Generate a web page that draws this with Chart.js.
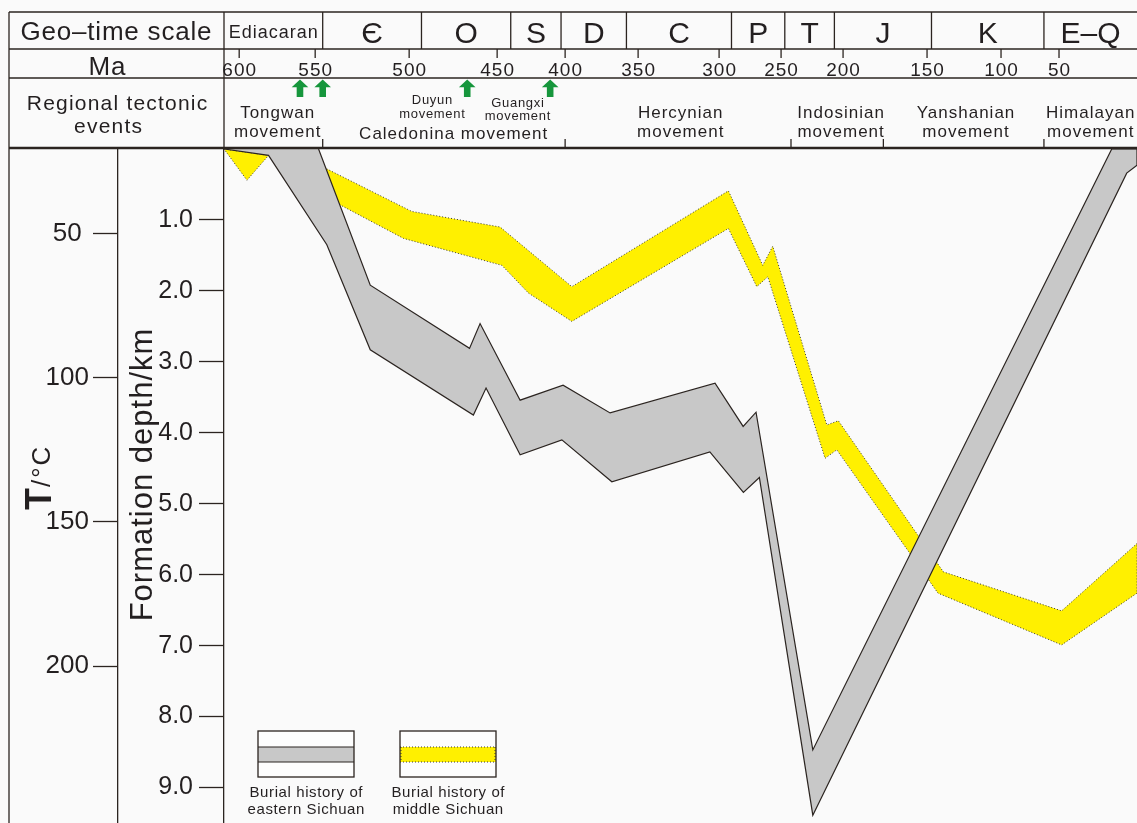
<!DOCTYPE html>
<html lang="en">
<head>
<meta charset="utf-8">
<title>Burial history of eastern and middle Sichuan</title>
<script src="https://cdn.jsdelivr.net/npm/chart.js@4.4.1/dist/chart.umd.min.js"></script>
<style>
  html, body { margin: 0; padding: 0; background: #fafafa; }
  canvas { display: block; }
</style>
</head>
<body>
<canvas id="burial" width="1137" height="823"></canvas>
<script>
// ---------------------------------------------------------------------------
// Burial envelopes (age in Ma, depth in km). Each band is bounded by a
// shallow (top) and a deep (base) curve, both listed from old to young.
// ---------------------------------------------------------------------------
const eastTopMa     = [548.2, 520.7, 465.7, 459.7, 433.1, 401.5, 369.2, 302.5, 280.6, 270.2, 224.4, 16.2, 0];
const eastTopDepth  = [0, 1.92, 2.81, 2.46, 3.54, 3.33, 3.72, 3.30, 3.91, 3.71, 8.47, 0, 0];
const eastBaseMa    = [610, 580.7, 543.8, 520.7, 463.5, 456.3, 433.1, 402.4, 368.0, 305.7, 280.4, 267.5, 224.4, 6.6, 0];
const eastBaseDepth = [0, 0.09, 1.35, 2.83, 3.75, 3.37, 4.31, 4.10, 4.69, 4.27, 4.84, 4.63, 9.39, 0.34, 0.23];

const midTopMa      = [610, 580.7, 548.4, 498.5, 447.8, 395.4, 292.5, 264.8, 256.7, 213.1, 203.8, 139.0, 48.3, 0];
const midTopDepth   = [0, 0.09, 0.22, 0.88, 1.10, 1.94, 0.59, 1.64, 1.37, 3.89, 3.83, 5.96, 6.51, 5.56];
const midBaseMa     = [610, 594.9, 580.7, 559.9, 503.0, 446.5, 427.0, 395.4, 292.5, 269.6, 260.7, 214.5, 205.1, 142.6, 48.3, 0];
const midBaseDepth  = [0, 0.44, 0.09, 0.49, 1.26, 1.64, 2.03, 2.43, 1.12, 1.94, 1.80, 4.36, 4.24, 6.26, 6.99, 6.26];

// Time scale header
const maTicks       = [600, 550, 500, 450, 400, 350, 300, 250, 200, 150, 100, 50];
const periodNames   = ['Ediacaran', 'Є', 'O', 'S', 'D', 'C', 'P', 'T', 'J', 'K', 'E–Q'];
const periodBoundMa = [610, 546, 493, 440, 403, 358, 290, 247, 207, 147, 63, 0];
const eventNames    = [['Tongwan', 'movement'], ['Caledonina movement'], ['Hercynian', 'movement'],
                       ['Indosinian', 'movement'], ['Yanshanian', 'movement'], ['Himalayan', 'movement']];
const eventBoundMa  = [610, 546, 400, 242, 176, 63, 0];
const eventLabelMa  = [575, 475, 324, 202, 124, 30];
const pulseNames    = [['Duyun', 'movement'], ['Guangxi', 'movement']];
const pulseLabelMa  = [487, 435];
const arrowMa       = [560, 546, 467, 411];

// Vertical axes
const depthTicks = [1, 2, 3, 4, 5, 6, 7, 8, 9];
const tempTicks  = [50, 100, 150, 200];
const depthMax   = 9.5;
const surfaceTemp = 20.7;   // °C at the surface
const geoGradient = 24.6;   // °C per km

// Relative width of each 50 Myr step of the time axis (0–50, 50–100, ... Ma)
const timeStretch = [78, 58, 74, 84, 62, 62, 81, 73, 68, 88, 94, 76, 76];

// ---------------------------------------------------------------------------
// Piecewise-linear time scale
// ---------------------------------------------------------------------------
const STEP = 50;
function stretchPos(v) {
  if (v <= 0) return v / STEP * timeStretch[0];
  let acc = 0;
  for (let i = 0; i < timeStretch.length; i++) {
    const lo = i * STEP;
    if (v <= lo + STEP) return acc + (v - lo) / STEP * timeStretch[i];
    acc += timeStretch[i];
  }
  return acc + (v - timeStretch.length * STEP) / STEP * timeStretch[timeStretch.length - 1];
}
function stretchInv(p) {
  if (p <= 0) return p / timeStretch[0] * STEP;
  let acc = 0;
  for (let i = 0; i < timeStretch.length; i++) {
    if (p <= acc + timeStretch[i]) return i * STEP + (p - acc) / timeStretch[i] * STEP;
    acc += timeStretch[i];
  }
  return timeStretch.length * STEP + (p - acc) / timeStretch[timeStretch.length - 1] * STEP;
}

class GeoTimeScale extends Chart.LinearScale {
  getPixelForValue(value) {
    if (value === null || value === undefined || isNaN(value)) return NaN;
    const a = stretchPos(this.min), b = stretchPos(this.max);
    return this.getPixelForDecimal((stretchPos(value) - a) / (b - a));
  }
  getValueForPixel(pixel) {
    const a = stretchPos(this.min), b = stretchPos(this.max);
    return stretchInv(a + this.getDecimalForPixel(pixel) * (b - a));
  }
}
GeoTimeScale.id = 'geotime';
GeoTimeScale.defaults = Chart.LinearScale.defaults;
Chart.register(GeoTimeScale);

// Closed outline: top curve old→young, then base curve young→old
function band(topMa, topDepth, baseMa, baseDepth) {
  const pts = topMa.map((m, i) => ({ x: m, y: topDepth[i] }));
  for (let i = baseMa.length - 1; i >= 0; i--) pts.push({ x: baseMa[i], y: baseDepth[i] });
  return pts;
}

// ---------------------------------------------------------------------------
// Drawing helpers
// ---------------------------------------------------------------------------
const INK = '#231f20';
const LINE = '#2b2420';
const FONT = '"Liberation Sans", Arial, Helvetica, sans-serif';

function drawText(ctx, str, x, y, size, spacing = 0, weight = 'normal', align = 'center') {
  ctx.font = `${weight} ${size}px ${FONT}`;
  ctx.letterSpacing = spacing + 'px';
  ctx.textAlign = align;
  ctx.textBaseline = 'alphabetic';
  ctx.fillStyle = INK;
  const shift = align === 'center' ? spacing / 2 : (align === 'right' ? spacing : 0);
  ctx.fillText(str, x + shift, y);
  ctx.letterSpacing = '0px';
}
function line(ctx, x1, y1, x2, y2, w = 1.3) {
  ctx.beginPath();
  ctx.lineWidth = w;
  ctx.strokeStyle = LINE;
  ctx.moveTo(x1, y1);
  ctx.lineTo(x2, y2);
  ctx.stroke();
}

// Geological time table above the plot
const headerPlugin = {
  id: 'geoHeader',
  afterDraw(chart) {
    const ctx = chart.ctx;
    const xs = chart.scales.x;
    const area = chart.chartArea;
    const L = 9, S = area.left, R = chart.width;
    const yTop = 12, y1 = 49, y2 = 78, y3 = area.top - 1;
    const px = v => xs.getPixelForValue(v);
    ctx.save();

    // frame
    line(ctx, L, yTop, R, yTop);
    line(ctx, L, y1, R, y1);
    line(ctx, L, y2, R, y2);
    line(ctx, L, y3, R, y3, 2.6);
    line(ctx, L, yTop, L, chart.height);
    line(ctx, S, yTop, S, y3);

    // left captions
    drawText(ctx, 'Geo–time scale', 116, 40, 26, 0.8);
    drawText(ctx, 'Ma', 107, 75, 26, 1);
    drawText(ctx, 'Regional tectonic', 117, 110, 21, 1.2);
    drawText(ctx, 'events', 108, 133, 21, 1.2);

    // periods
    for (let i = 0; i < periodNames.length; i++) {
      const a = px(periodBoundMa[i]), b = Math.min(px(periodBoundMa[i + 1]), R);
      if (i > 0) line(ctx, a, yTop, a, y1);
      const cx = (a + b) / 2;
      if (i === 0) drawText(ctx, periodNames[i], cx, 37.5, 18, 1);
      else drawText(ctx, periodNames[i], cx, 43.3, 30, 0);
    }

    // Ma ticks
    maTicks.forEach(v => {
      const x = px(v);
      line(ctx, x, y1, x, 58);
      drawText(ctx, String(v), x, 76, 19, 1);
    });

    // tectonic events
    for (let i = 1; i < eventBoundMa.length - 1; i++) {
      const x = px(eventBoundMa[i]);
      line(ctx, x, 139, x, y3);
    }
    eventNames.forEach((lines, i) => {
      const cx = px(eventLabelMa[i]);
      if (lines.length === 1) drawText(ctx, lines[0], cx, 139.3, 17, 1);
      else {
        drawText(ctx, lines[0], cx, 117.5, 17, 1);
        drawText(ctx, lines[1], cx, 136.5, 17, 1);
      }
    });
    pulseNames.forEach((lines, i) => {
      const cx = px(pulseLabelMa[i]);
      const base = i === 0 ? 104.3 : 106.8;
      drawText(ctx, lines[0], cx, base, 13, 0.7);
      drawText(ctx, lines[1], cx, base + 13.5, 13, 0.7);
    });

    // uplift arrows
    ctx.fillStyle = '#16963c';
    arrowMa.forEach(v => {
      const x = px(v);
      ctx.beginPath();
      ctx.moveTo(x, 79.5);
      ctx.lineTo(x + 8.3, 87.2);
      ctx.lineTo(x + 3.3, 87.2);
      ctx.lineTo(x + 3.3, 97);
      ctx.lineTo(x - 3.3, 97);
      ctx.lineTo(x - 3.3, 87.2);
      ctx.lineTo(x - 8.3, 87.2);
      ctx.closePath();
      ctx.fill();
    });
    ctx.restore();
  }
};

// Axis titles
const titlePlugin = {
  id: 'axisTitles',
  afterDraw(chart) {
    const ctx = chart.ctx;
    const d = chart.scales.depth, t = chart.scales.temp;
    ctx.save();
    ctx.fillStyle = INK;
    // Formation depth/km
    ctx.translate(d.left + 34, 475);
    ctx.rotate(-Math.PI / 2);
    ctx.font = `31px ${FONT}`;
    ctx.letterSpacing = '1px';
    ctx.textAlign = 'center';
    ctx.textBaseline = 'alphabetic';
    ctx.fillText('Formation depth/km', 0.5, 0);
    ctx.restore();

    // T/°C
    ctx.save();
    ctx.fillStyle = INK;
    ctx.translate(t.left + 42, 510);
    ctx.rotate(-Math.PI / 2);
    ctx.textAlign = 'left';
    ctx.textBaseline = 'alphabetic';
    ctx.font = `bold 36px ${FONT}`;
    ctx.fillText('T', 0, 0);
    const wT = ctx.measureText('T').width;
    ctx.font = `26px ${FONT}`;
    ctx.letterSpacing = '2px';
    ctx.fillText('/°C', wT + 1, -1);
    ctx.restore();
  }
};

// Legend boxes in the lower-left corner of the plot
const legendPlugin = {
  id: 'bandLegend',
  afterDraw(chart) {
    const ctx = chart.ctx;
    const area = chart.chartArea;
    const top = area.bottom - 92, h = 46, w = 96;
    const lefts = [area.left + 34, area.left + 176];
    ctx.save();
    chart.data.datasets.forEach((ds, i) => {
      const x = lefts[i];
      ctx.fillStyle = '#fdfdfd';
      ctx.fillRect(x, top, w, h);
      ctx.fillStyle = ds.backgroundColor;
      ctx.fillRect(x, top + 16, w, 15);
      ctx.strokeStyle = ds.borderColor;
      ctx.lineWidth = ds.borderWidth;
      ctx.setLineDash(ds.borderDash || []);
      ctx.beginPath();
      ctx.moveTo(x, top + 16); ctx.lineTo(x + w, top + 16);
      ctx.moveTo(x, top + 31); ctx.lineTo(x + w, top + 31);
      if (ds.borderDash) {
        ctx.moveTo(x + 1, top + 16); ctx.lineTo(x + 1, top + 31);
        ctx.moveTo(x + w - 1, top + 16); ctx.lineTo(x + w - 1, top + 31);
      }
      ctx.stroke();
      ctx.setLineDash([]);
      ctx.strokeStyle = LINE;
      ctx.lineWidth = 1.3;
      ctx.strokeRect(x, top, w, h);
      const words = ds.label.split(' of ');
      drawText(ctx, words[0] + ' of', x + w / 2, top + 66, 15, 0.6);
      drawText(ctx, words[1], x + w / 2, top + 82.5, 15, 0.6);
    });
    ctx.restore();
  }
};

// Vertical axes keep their full height: no extra room for end labels
function fixedAxis(width) {
  return s => {
    s.width = width;
    s.paddingTop = 0;
    s.paddingBottom = 0;
  };
}

// ---------------------------------------------------------------------------
// Chart
// ---------------------------------------------------------------------------
new Chart(document.getElementById('burial'), {
  type: 'line',
  data: {
    datasets: [
      {
        label: 'Burial history of eastern Sichuan',
        data: band(eastTopMa, eastTopDepth, eastBaseMa, eastBaseDepth),
        xAxisID: 'x', yAxisID: 'depth',
        fill: 'shape',
        backgroundColor: '#c8c8c8',
        borderColor: '#2b2420',
        borderWidth: 1.2,
        pointRadius: 0,
        tension: 0
      },
      {
        label: 'Burial history of middle Sichuan',
        data: band(midTopMa, midTopDepth, midBaseMa, midBaseDepth),
        xAxisID: 'x', yAxisID: 'depth',
        fill: 'shape',
        backgroundColor: '#fff000',
        borderColor: '#3a3a3a',
        borderWidth: 1,
        borderDash: [1, 2],
        pointRadius: 0,
        tension: 0
      }
    ]
  },
  options: {
    responsive: false,
    animation: false,
    events: [],
    layout: { padding: { left: 9, top: 149, right: 0, bottom: 0 } },
    plugins: {
      legend: { display: false },
      tooltip: { enabled: false },
      filler: { propagate: false }
    },
    scales: {
      x: { type: 'geotime', reverse: true, min: 0, max: 610, display: false },
      depth: {
        type: 'linear', position: 'left', reverse: true, min: 0, max: depthMax, weight: 0,
        afterFit: fixedAxis(106),
        afterBuildTicks: s => { s.ticks = depthTicks.map(v => ({ value: v })); },
        ticks: {
          autoSkip: false, padding: 6, color: INK,
          font: { family: FONT, size: 25 },
          callback: v => Number(v).toFixed(1)
        },
        grid: { display: true, drawOnChartArea: false, drawTicks: true, tickLength: 25, tickWidth: 1.3, tickColor: LINE },
        border: { display: true, color: LINE, width: 1.3 }
      },
      temp: {
        type: 'linear', position: 'left', reverse: true,
        min: surfaceTemp, max: surfaceTemp + geoGradient * depthMax, weight: 1,
        afterFit: fixedAxis(109),
        afterBuildTicks: s => { s.ticks = tempTicks.map(v => ({ value: v })); },
        ticks: {
          autoSkip: false, padding: 4, crossAlign: 'center', color: INK,
          font: { family: FONT, size: 26 },
          callback: v => String(v)
        },
        grid: { display: true, drawOnChartArea: false, drawTicks: true, tickLength: 25, tickWidth: 1.3, tickColor: LINE },
        border: { display: true, color: LINE, width: 1.3 }
      }
    }
  },
  plugins: [headerPlugin, titlePlugin, legendPlugin]
});
</script>
</body>
</html>
